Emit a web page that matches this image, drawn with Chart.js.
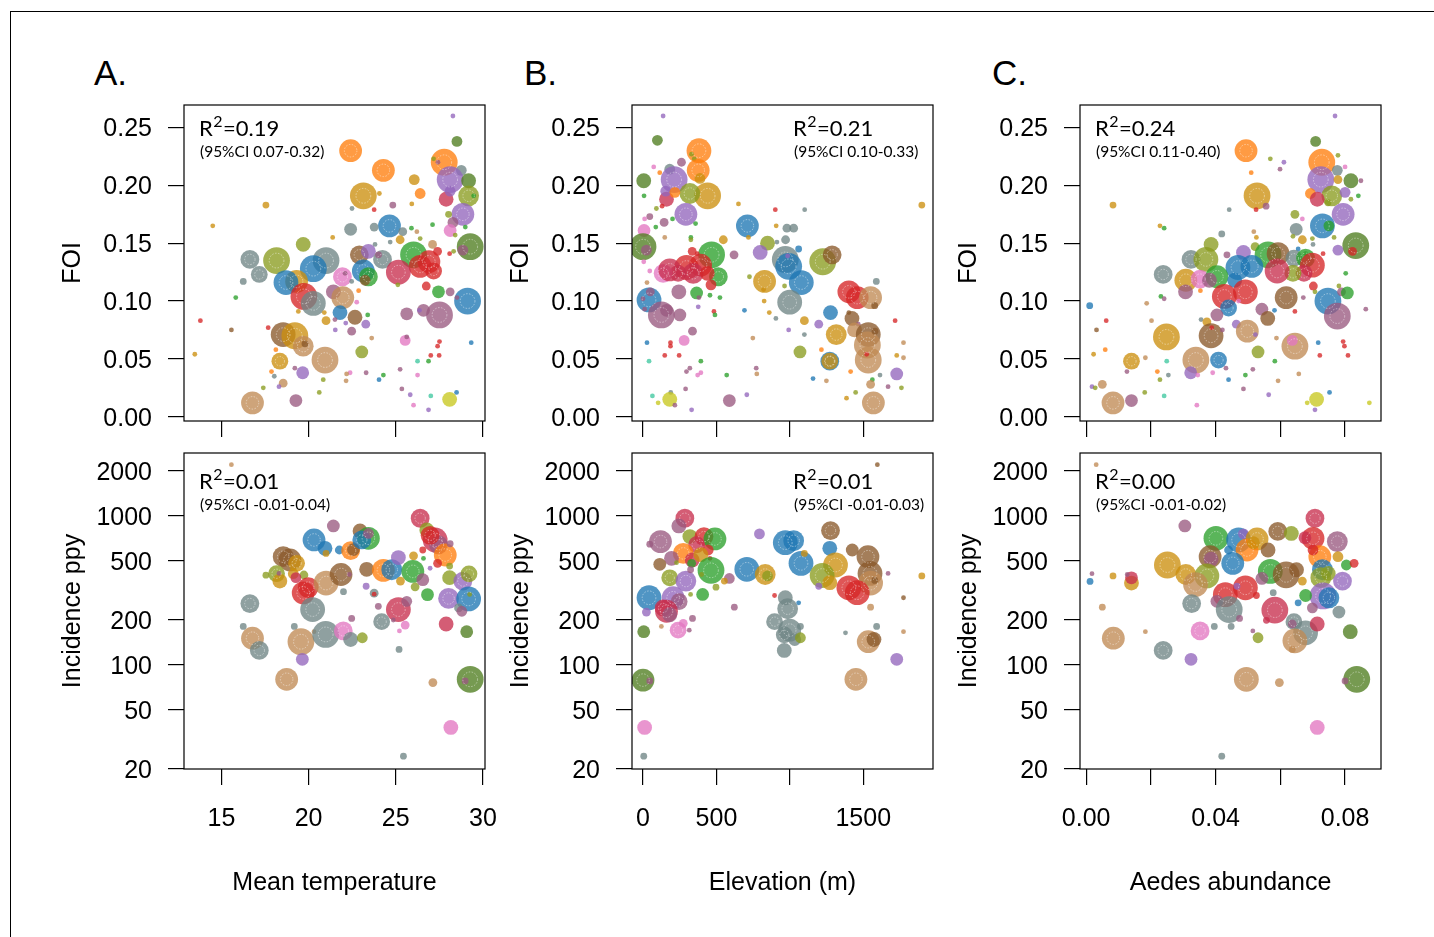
<!DOCTYPE html>
<html>
<head>
<meta charset="utf-8">
<script src="https://cdn.jsdelivr.net/npm/chart.js@4.4.1/dist/chart.umd.min.js"></script>
<style>
  body { margin: 0; background: #fff; width: 1434px; height: 937px; overflow: hidden; position: relative;
         font-family: "Liberation Sans", Arial, sans-serif; }
  #frame { position: absolute; left: 10px; top: 11px; width: 1430px; height: 930px;
           border-top: 1px solid #000; border-left: 1px solid #000; }
  canvas { position: absolute; }
  .lbl { position: absolute; font-size: 35px; line-height: 35px; color: #000; }
</style>
</head>
<body>
<div id="frame"></div>
<div class="lbl" style="left:94px;top:55px">A.</div>
<div class="lbl" style="left:524px;top:55px">B.</div>
<div class="lbl" style="left:992px;top:55px">C.</div>

<canvas id="tempFoiChart" width="451" height="361" style="left:54px;top:90px"></canvas>
<canvas id="elevFoiChart" width="451" height="361" style="left:502px;top:90px"></canvas>
<canvas id="aedesFoiChart" width="451" height="361" style="left:950px;top:90px"></canvas>
<canvas id="tempIncChart" width="451" height="471" style="left:54px;top:438px"></canvas>
<canvas id="elevIncChart" width="451" height="471" style="left:502px;top:438px"></canvas>
<canvas id="aedesIncChart" width="451" height="471" style="left:950px;top:438px"></canvas>

<script>
// colour of each group (region) of locations
const groupColours = ['#1f77b4', '#ff7f0e', '#2ca02c', '#d62728', '#9467bd', '#8b5a2b', '#e377c2', '#6f8585',
                      '#8a9c20', '#cc8f10', '#c08a55', '#4f7d20', '#9a5a80', '#c8304e', '#40c8a0', '#c8c820'];

// tick values / labels
const foiTicks = [0, 0.05, 0.10, 0.15, 0.20, 0.25];
const foiTickLabels = ['0.00', '0.05', '0.10', '0.15', '0.20', '0.25'];
const incTicks = [20, 50, 100, 200, 500, 1000, 2000];
const incTickLabels = ['20', '50', '100', '200', '500', '1000', '2000'];
const tempTicks = [15, 20, 25, 30];
const tempTickLabels = ['15', '20', '25', '30'];
const elevTicks = [0, 500, 1000, 1500];
const elevTickLabels = ['0', '500', '', '1500'];
const aedesTicks = [0, 0.02, 0.04, 0.06, 0.08];
const aedesTickLabels = ['0.00', '', '0.04', '', '0.08'];

// [x, y, population size, group]
const tempFoi = [[28.28,.260,2,4],[28.51,.238,5,11],[22.41,.230,11,1],[24.29,.213,11,1],[27.78,.220,13,1],[28.76,.213,5,7],[27.17,.223,2,8],[27.42,.220,2,12],[28.12,.205,13,4],[29.18,.204,7,11],[26.06,.205,5,9],[26.40,.193,5,1],[29.18,.191,10,8],[27.89,.188,7,13],[28.12,.195,5,4],[29.47,.191,2,2],[23.14,.191,13,9],[24.06,.193,2,9],[24.83,.183,3,12],[25.92,.184,2,9],[23.76,.179,2,3],[22.49,.180,2,7],[17.55,.183,3,9],[14.50,.165,2,9],[28.85,.175,11,4],[28.03,.175,3,8],[28.99,.164,2,2],[28.28,.168,5,12],[28.12,.161,6,6],[27.11,.166,2,2],[24.64,.165,11,0],[23.76,.164,4,7],[22.41,.162,6,7],[25.90,.163,2,2],[26.21,.160,2,10],[26.40,.154,2,8],[25.40,.160,4,7],[25.25,.153,4,9],[21.38,.155,2,9],[24.68,.151,2,7],[23.81,.149,2,7],[28.41,.157,2,8],[29.27,.147,13,11],[28.85,.144,5,12],[19.69,.149,7,8],[27.11,.149,4,10],[26.02,.140,13,2],[27.40,.143,4,3],[28.09,.141,2,3],[28.32,.143,2,8],[16.63,.136,9,7],[18.16,.135,13,8],[21.00,.135,13,7],[20.27,.128,13,0],[17.17,.123,8,7],[22.91,.140,9,5],[23.43,.143,7,4],[24.24,.136,9,7],[24.01,.140,3,12],[26.90,.134,11,3],[26.40,.130,11,3],[27.17,.126,8,3],[25.15,.125,12,13],[23.14,.126,11,0],[23.43,.121,9,2],[21.94,.121,9,6],[22.47,.117,2,7],[23.24,.118,5,5],[22.09,.124,2,12],[19.31,.117,11,9],[16.25,.117,3,7],[18.70,.116,12,0],[19.73,.104,13,3],[20.27,.098,12,7],[21.42,.108,7,12],[21.96,.103,11,10],[21.80,.090,7,0],[22.87,.109,2,1],[22.76,.099,2,6],[15.82,.103,2,2],[25.12,.114,2,8],[26.75,.113,4,3],[27.45,.108,6,2],[28.12,.108,4,12],[29.12,.100,13,0],[28.51,.103,2,12],[27.51,.088,13,12],[26.59,.092,6,12],[26.36,.092,2,4],[25.63,.089,6,12],[19.41,.091,2,9],[20.90,.090,2,9],[21.00,.083,4,9],[21.51,.084,2,12],[22.13,.081,2,4],[22.66,.086,7,5],[23.39,.088,2,2],[23.28,.080,4,4],[22.47,.074,4,12],[21.53,.075,2,4],[13.79,.083,2,3],[15.57,.075,2,5],[17.68,.077,2,3],[18.54,.071,12,5],[19.21,.070,13,9],[19.69,.061,10,10],[19.79,.063,3,5],[23.62,.068,2,10],[25.54,.066,5,6],[25.63,.069,2,12],[27.51,.065,2,3],[27.40,.061,2,3],[29.33,.064,2,0],[18.12,.058,2,1],[18.35,.048,8,9],[23.05,.056,6,8],[20.94,.049,13,10],[27.01,.053,2,3],[27.49,.053,2,3],[26.25,.048,2,14],[26.88,.048,2,2],[13.47,.054,2,9],[17.87,.039,2,1],[18.03,.035,2,7],[19.21,.042,2,12],[19.66,.038,6,4],[20.84,.032,2,8],[22.38,.038,2,6],[22.18,.037,2,10],[22.15,.031,2,10],[23.30,.038,2,12],[24.29,.036,2,2],[24.04,.032,2,0],[25.25,.041,2,12],[26.25,.036,2,6],[18.54,.029,4,10],[18.30,.026,2,4],[17.40,.025,2,8],[20.61,.021,2,8],[25.35,.024,2,12],[25.83,.019,2,4],[27.01,.018,2,14],[28.09,.015,7,15],[28.49,.021,2,0],[16.78,.012,11,10],[19.27,.014,6,12],[26.02,.010,2,6],[26.88,.006,2,4]];

const elevFoi = [[137,.260,2,4],[98,.239,5,11],[381,.230,12,1],[330,.227,2,8],[349,.223,2,8],[262,.220,4,12],[376,.213,11,1],[182,.214,5,7],[73,.216,2,6],[114,.211,2,1],[212,.205,13,4],[5,.204,7,11],[388,.206,5,9],[440,.191,13,9],[319,.193,10,8],[160,.188,7,13],[155,.195,5,4],[7,.191,2,2],[217,.194,5,1],[130,.182,2,3],[91,.180,2,8],[650,.184,2,9],[901,.179,2,3],[1101,.179,2,7],[1899,.183,3,9],[292,.175,11,4],[46,.173,3,12],[11,.171,2,6],[144,.168,4,12],[201,.171,2,2],[87,.164,2,2],[358,.167,2,2],[7,.161,6,6],[711,.165,11,0],[907,.165,2,9],[1026,.163,4,7],[980,.163,4,7],[148,.155,2,10],[326,.155,2,2],[326,.153,2,8],[547,.153,4,9],[718,.155,2,9],[971,.153,4,7],[912,.151,2,7],[848,.150,7,8],[0,.147,13,11],[23,.144,5,12],[467,.140,13,2],[335,.143,4,3],[369,.141,2,3],[620,.140,4,12],[798,.142,7,4],[5,.134,2,6],[969,.136,13,7],[992,.130,13,0],[985,.139,2,4],[1060,.145,3,0],[1224,.134,13,8],[1288,.140,9,5],[392,.131,11,3],[296,.129,12,3],[239,.124,8,13],[137,.124,9,6],[182,.127,11,13],[46,.126,2,6],[342,.124,10,13],[513,.121,9,2],[438,.124,7,3],[463,.114,5,3],[1078,.116,12,0],[828,.117,11,9],[725,.121,2,8],[964,.113,2,8],[27,.116,2,10],[244,.108,7,12],[365,.107,6,2],[456,.105,2,2],[524,.103,2,2],[381,.103,2,12],[41,.101,12,0],[50,.108,4,12],[0,.102,2,12],[11,.093,2,12],[821,.110,2,9],[825,.100,2,9],[999,.099,12,7],[1402,.108,11,3],[1459,.103,11,3],[1550,.103,11,10],[1589,.117,3,7],[1578,.096,3,5],[1277,.090,7,0],[125,.088,13,12],[160,.092,6,12],[251,.088,6,12],[376,.095,2,4],[483,.091,2,3],[490,.088,2,2],[691,.092,2,0],[860,.090,2,9],[905,.085,2,7],[1099,.083,4,9],[1197,.080,4,4],[1402,.090,2,5],[1423,.085,7,5],[1466,.080,2,12],[1717,.083,2,3],[337,.074,4,12],[992,.075,2,4],[1099,.071,2,7],[748,.068,2,10],[1316,.071,10,9],[1441,.075,7,10],[1534,.071,12,5],[1528,.062,13,10],[1580,.074,3,5],[280,.066,5,6],[187,.064,2,3],[187,.061,2,3],[27,.064,2,0],[1774,.064,2,10],[1215,.058,2,1],[1069,.056,6,8],[1272,.048,9,0],[1272,.048,8,9],[1534,.049,13,10],[148,.053,2,3],[246,.053,2,3],[41,.048,2,14],[394,.048,2,2],[1728,.053,2,9],[1774,.051,2,10],[1523,.054,2,3],[296,.039,2,12],[319,.042,2,12],[372,.036,2,6],[394,.038,2,6],[570,.036,2,2],[771,.042,2,12],[775,.037,2,10],[1158,.033,2,0],[1249,.031,2,10],[1414,.039,2,1],[1562,.032,2,2],[1550,.028,4,10],[1614,.036,2,7],[1728,.037,6,4],[1669,.026,2,12],[1760,.025,2,8],[290,.024,2,12],[707,.019,2,4],[189,.021,2,7],[64,.018,2,14],[182,.015,7,15],[103,.012,2,15],[217,.010,2,12],[331,.006,2,4],[588,.014,6,12],[1386,.016,2,9],[1448,.021,2,8],[1569,.012,11,10]];

const aedesFoi = [[.0769,.260,2,4],[.0709,.238,5,11],[.0494,.230,11,1],[.0569,.223,2,8],[.0611,.220,2,4],[.0599,.214,2,12],[.0510,.211,2,1],[.0728,.220,13,1],[.0778,.226,2,8],[.0776,.213,5,7],[.0800,.216,2,6],[.0725,.205,13,4],[.0818,.204,7,11],[.0849,.204,2,12],[.0778,.205,4,9],[.0693,.193,5,1],[.0759,.191,10,8],[.0714,.188,7,13],[.0800,.194,5,4],[.0818,.188,2,8],[.0841,.191,2,2],[.0747,.185,3,8],[.0528,.191,13,9],[.0556,.182,3,12],[.0525,.179,2,3],[.0442,.179,2,7],[.0083,.183,3,9],[.0794,.175,11,4],[.0645,.175,4,8],[.0668,.171,2,6],[.0730,.165,12,0],[.0750,.165,5,2],[.0649,.162,6,7],[.0639,.156,2,8],[.0668,.153,4,9],[.0701,.149,2,7],[.0699,.154,2,8],[.0766,.155,2,8],[.0228,.165,2,9],[.0241,.163,2,2],[.0419,.158,3,7],[.0518,.160,2,10],[.0526,.155,2,9],[.0386,.149,7,8],[.0833,.148,13,11],[.0823,.143,4,3],[.0778,.144,5,4],[.0522,.147,4,8],[.0562,.140,13,2],[.0593,.141,11,5],[.0655,.145,2,0],[.0678,.141,2,2],[.0732,.141,2,3],[.0642,.137,8,7],[.0678,.137,9,2],[.0699,.131,12,3],[.0673,.124,8,13],[.0639,.124,8,8],[.0590,.126,12,13],[.0324,.136,9,7],[.0370,.136,12,8],[.0435,.140,3,12],[.0486,.142,7,4],[.0469,.129,12,0],[.0512,.130,11,0],[.0238,.123,9,7],[.0308,.118,11,9],[.0352,.119,9,6],[.0404,.121,11,2],[.0381,.118,7,12],[.0459,.118,7,0],[.0307,.108,7,12],[.0353,.109,2,1],[.0231,.104,2,2],[.0241,.102,2,12],[.0427,.104,12,3],[.0492,.108,12,3],[.0471,.100,2,6],[.0440,.094,8,0],[.0404,.088,6,12],[.0618,.103,11,5],[.0702,.113,4,3],[.0707,.108,2,8],[.0747,.100,13,0],[.0781,.113,2,8],[.0789,.108,4,12],[.0807,.107,6,2],[.0776,.087,13,12],[.0802,.124,2,2],[.0864,.093,2,12],[.0011,.096,3,0],[.0543,.093,6,12],[.0561,.085,7,5],[.0582,.092,2,0],[.0645,.091,2,3],[.0671,.103,2,12],[.0187,.098,2,10],[.0202,.083,2,10],[.0062,.083,2,3],[.0032,.075,2,5],[.0355,.084,2,7],[.0373,.082,4,9],[.0386,.070,12,5],[.0388,.077,2,3],[.0421,.075,2,12],[.0464,.080,4,4],[.0498,.074,11,10],[.0523,.071,2,4],[.0248,.069,13,9],[.0645,.061,13,10],[.0637,.066,5,6],[.0588,.068,2,10],[.0717,.064,2,0],[.0794,.065,2,3],[.0798,.061,2,3],[.0809,.053,2,3],[.0722,.053,2,3],[.0531,.056,6,8],[.0409,.049,8,0],[.0339,.049,13,10],[.0140,.048,8,9],[.0183,.051,2,10],[.0059,.058,2,1],[.0023,.054,2,9],[.0249,.048,2,14],[.0583,.048,2,2],[.0126,.039,2,12],[.0220,.039,2,1],[.0228,.032,2,8],[.0254,.036,2,7],[.0323,.038,6,4],[.0345,.036,2,6],[.0391,.038,2,6],[.0432,.042,2,12],[.0440,.032,2,0],[.0492,.036,2,2],[.0515,.041,2,12],[.0593,.031,2,10],[.0657,.037,2,10],[.0050,.028,4,10],[.0018,.026,2,4],[.0028,.025,2,8],[.0181,.021,2,8],[.0241,.018,2,14],[.0486,.024,2,12],[.0564,.019,2,4],[.0712,.015,7,15],[.0752,.021,2,0],[.0683,.012,2,15],[.0707,.006,2,4],[.0875,.012,2,15],[.0083,.012,11,10],[.0140,.014,6,12],[.0342,.010,2,6]];

const tempInc = [[15.57,2206,2,10],[26.40,964,9,13],[21.42,856,6,12],[22.95,792,7,5],[20.31,689,11,0],[20.94,606,7,0],[21.76,590,4,0],[21.00,560,3,9],[22.41,584,9,1],[22.57,594,6,5],[23.43,707,11,2],[23.05,689,9,0],[23.43,762,5,12],[26.78,805,7,8],[27.26,689,12,13],[27.45,640,9,12],[26.97,740,9,3],[27.84,546,11,1],[28.12,650,3,12],[26.55,590,3,3],[26.02,539,4,9],[26.59,518,2,2],[27.40,480,4,3],[28.09,460,3,8],[26.97,445,2,4],[18.54,532,10,5],[18.93,506,11,5],[19.31,480,8,9],[18.16,409,8,8],[17.55,400,3,8],[18.35,365,7,9],[19.12,409,5,9],[18.30,411,2,12],[19.73,401,4,8],[19.27,385,5,13],[19.69,304,11,3],[19.98,330,10,3],[21.00,354,12,10],[21.86,404,11,5],[22.34,404,2,12],[23.33,438,7,5],[23.30,337,3,4],[24.29,431,11,1],[24.77,435,10,0],[25.15,525,7,4],[25.98,424,11,2],[25.27,365,4,9],[26.11,334,4,8],[26.55,373,6,12],[26.82,296,6,2],[28.09,385,7,8],[28.85,365,9,4],[29.20,408,8,8],[28.03,279,10,4],[29.18,277,12,0],[28.60,241,4,7],[28.79,229,5,12],[29.24,297,2,8],[22.00,310,3,7],[23.76,303,4,7],[23.76,298,2,3],[24.00,247,3,12],[16.63,258,9,7],[20.23,235,12,7],[25.15,235,12,13],[25.63,267,5,12],[24.19,195,8,7],[24.86,200,2,12],[25.54,185,4,6],[25.21,169,2,6],[22.47,205,3,12],[27.89,188,7,13],[29.07,167,6,11],[16.25,181,3,7],[16.78,151,11,10],[17.17,125,9,7],[19.18,181,3,7],[19.56,143,13,10],[20.31,167,2,10],[20.98,160,13,7],[21.99,169,9,6],[22.41,148,7,7],[23.08,152,5,8],[19.64,109,6,4],[18.74,80,11,10],[25.19,127,3,7],[27.13,76,4,10],[29.27,80,13,11],[28.98,78,3,12],[28.16,38,7,6],[25.44,24.4,3,7]];

const elevInc = [[1596,2206,2,5],[285,964,9,13],[244,856,7,12],[319,726,7,8],[415,726,9,3],[490,700,11,2],[119,672,11,12],[46,646,3,12],[365,640,8,13],[444,590,5,3],[274,560,10,1],[194,519,7,12],[335,506,7,13],[456,519,2,3],[394,549,7,9],[114,473,6,5],[228,485,2,8],[331,480,4,2],[182,384,8,8],[292,365,10,4],[463,431,13,2],[324,435,3,12],[399,404,2,8],[588,380,5,12],[554,365,3,9],[497,332,3,8],[707,438,12,0],[832,404,10,9],[848,395,5,8],[793,757,5,4],[969,661,12,0],[1026,681,10,0],[1076,480,12,0],[1099,560,3,9],[1277,797,9,5],[1272,606,7,0],[1311,468,12,9],[1220,398,12,8],[1272,356,7,9],[1197,337,3,4],[1425,590,6,5],[1532,532,11,5],[1546,411,12,5],[1550,354,12,10],[1402,329,12,3],[1459,305,12,3],[1578,369,3,5],[1669,411,2,12],[1899,395,3,9],[1774,282,2,5],[1550,244,3,10],[896,292,2,3],[622,244,3,12],[41,282,12,0],[205,282,11,4],[246,266,8,12],[406,297,6,2],[324,297,2,8],[160,229,11,13],[137,241,8,13],[182,217,7,12],[23,226,4,4],[239,171,8,6],[274,190,4,6],[337,205,3,12],[315,171,2,12],[125,181,2,10],[5,167,6,11],[969,282,7,7],[985,238,10,7],[1060,261,2,0],[896,195,8,7],[999,171,11,7],[962,159,8,7],[1033,148,6,7],[1072,152,5,8],[1072,181,3,7],[962,125,7,7],[1379,164,2,7],[1591,181,3,7],[1774,167,2,10],[1534,143,11,10],[1573,148,7,5],[1728,109,6,4],[1450,80,11,10],[0,79,11,11],[46,78,3,12],[11,38,7,6],[5,24.4,3,7]];

const aedesInc = [[.0031,2206,2,10],[.0707,964,9,13],[.0305,856,6,12],[.0401,707,12,2],[.0471,689,12,0],[.0486,757,5,4],[.0528,700,11,9],[.0592,786,9,5],[.0634,762,7,8],[.0701,707,11,3],[.0676,714,6,13],[.0776,672,10,12],[.0497,590,11,1],[.0517,660,6,9],[.0440,590,4,0],[.0383,532,11,5],[.0386,512,7,12],[.0562,590,7,5],[.0453,480,11,0],[.0722,532,11,1],[.0701,590,5,3],[.0778,532,5,9],[.0804,468,5,2],[.0828,480,4,3],[.0251,468,13,9],[.0308,404,10,9],[.0373,395,12,8],[.0338,346,12,10],[.0569,424,12,2],[.0618,402,13,5],[.0650,435,7,5],[.0730,435,10,0],[.0725,385,10,8],[.0748,411,7,8],[.0668,365,4,9],[.0543,380,6,12],[.0792,365,9,4],[.0430,296,12,3],[.0492,329,12,3],[.0466,337,3,4],[.0526,292,3,3],[.0578,305,3,7],[.0404,267,6,12],[.0442,235,13,7],[.0474,205,3,12],[.0326,258,9,7],[.0583,233,13,13],[.0732,290,13,4],[.0750,282,10,0],[.0678,292,6,2],[.0655,261,3,0],[.0699,241,5,12],[.0781,226,6,7],[.0642,195,8,7],[.0678,164,12,7],[.0645,145,12,10],[.0637,127,3,10],[.0637,188,4,12],[.0714,188,7,13],[.0816,167,7,11],[.0352,169,9,6],[.0396,181,3,7],[.0448,181,3,7],[.0515,169,2,12],[.0531,152,5,8],[.0557,199,3,13],[.0084,151,11,10],[.0183,167,2,10],[.0238,125,9,7],[.0324,109,6,4],[.0495,80,12,10],[.0597,76,4,10],[.0836,80,13,11],[.0800,78,3,12],[.0714,38,7,6],[.0419,24.4,3,7],[.0012,363,3,0],[.0018,409,2,12],[.0083,395,3,9],[.0140,354,7,9],[.0140,384,6,13],[.0127,404,2,12],[.0050,244,3,10]];

// fit statistics printed in each panel
const r2Values = ['0.19', '0.21', '0.24', '0.01', '0.01', '0.00'];
const r2Cis = ['(95%CI 0.07-0.32)', '(95%CI 0.10-0.33)', '(95%CI 0.11-0.40)',
               '(95%CI -0.01-0.04)', '(95%CI -0.01-0.03)', '(95%CI -0.01-0.02)'];

Chart.defaults.font.family = '"Liberation Sans", Arial, sans-serif';
Chart.defaults.color = '#000';

function hexToRgba(hex, a) {
  const n = parseInt(hex.slice(1), 16);
  return `rgba(${(n >> 16) & 255}, ${(n >> 8) & 255}, ${n & 255}, ${a})`;
}
const fills = groupColours.map(c => hexToRgba(c, 0.78));
const popRadius = p => p + 0.4;

// R-like box, faint rings and the R2 note
const boxPlugin = {
  id: 'rbox',
  afterDatasetsDraw(chart, args, o) {
    const {ctx, chartArea: a} = chart;
    ctx.save();
    ctx.beginPath();
    ctx.rect(a.left, a.top, a.right - a.left, a.bottom - a.top);
    ctx.clip();
    ctx.strokeStyle = 'rgba(255,255,255,0.55)';
    ctx.lineWidth = 0.8;
    ctx.setLineDash([1.5, 1.5]);
    chart.getDatasetMeta(0).data.forEach(el => {
      const r = el.options.radius;
      if (r >= 8) {
        ctx.beginPath();
        ctx.arc(el.x, el.y, r * 0.55, 0, Math.PI * 2);
        ctx.stroke();
      }
    });
    ctx.restore();

    ctx.save();
    ctx.strokeStyle = '#000';
    ctx.lineWidth = 1.2;
    ctx.strokeRect(a.left, a.top, a.right - a.left, a.bottom - a.top);

    const x = a.left + o.dx;
    const y = a.top + o.dy;
    ctx.fillStyle = '#000';
    ctx.textBaseline = 'alphabetic';
    ctx.font = '22px Lato, "Open Sans", sans-serif';
    ctx.fillText('R', x, y);
    const w1 = ctx.measureText('R').width;
    ctx.font = '16px Lato, "Open Sans", sans-serif';
    ctx.fillText('2', x + w1 + 0.5, y - 9);
    const w2 = ctx.measureText('2').width;
    ctx.font = '22px Lato, "Open Sans", sans-serif';
    ctx.fillText('=' + o.r2, x + w1 + w2 + 1, y);
    ctx.font = '15.5px Lato, "Open Sans", sans-serif';
    ctx.fillText(o.ci, x + 1, y + 21);
    ctx.restore();
  }
};

function axis(s, which) {
  return {
    type: s.log ? 'logarithmic' : 'linear',
    min: s.min,
    max: s.max,
    afterBuildTicks: sc => { sc.ticks = s.ticks.map(v => ({value: v})); },
    afterFit: sc => {
      if (which === 'y') sc.width = 130;
      else sc.height = s.title ? 140 : 30;
      sc.paddingTop = sc.paddingBottom = sc.paddingLeft = sc.paddingRight = 0;
    },
    grid: {display: true, drawOnChartArea: false, drawTicks: true, tickLength: 16, color: '#000', lineWidth: 1.2},
    border: {display: false},
    ticks: {
      display: s.showLabels,
      padding: which === 'y' ? 16 : 19,
      labelOffset: which === 'y' ? 2 : 0,
      color: '#000',
      font: {size: 25},
      maxRotation: 0,
      autoSkip: false,
      callback: (v, i) => s.labels[i]
    },
    title: {
      display: !!s.title,
      text: s.title,
      color: '#000',
      font: {size: 25},
      padding: which === 'y' ? {top: 4, bottom: 0} : {top: 0, bottom: 11}
    }
  };
}

function makeChart(id, pts, xs, ys, note) {
  return new Chart(document.getElementById(id), {
    type: 'bubble',
    data: {
      datasets: [{
        data: pts.map(p => ({x: p[0], y: p[1], r: popRadius(p[2]), g: p[3]})),
        backgroundColor: c => fills[c.raw ? c.raw.g : 0],
        borderWidth: 0,
        hoverRadius: 0,
        clip: 0
      }]
    },
    options: {
      responsive: false,
      animation: false,
      events: [],
      layout: {padding: {left: 0, top: 15, right: 20, bottom: 0}},
      plugins: {legend: {display: false}, tooltip: {enabled: false}, rbox: note},
      scales: {x: axis(xs, 'x'), y: axis(ys, 'y')}
    },
    plugins: [boxPlugin]
  });
}

const foiAxis = {min: -0.0037, max: 0.2695, ticks: foiTicks, labels: foiTickLabels, showLabels: true, title: 'FOI'};
const incAxis = {log: true, min: 20, max: 2642, ticks: incTicks, labels: incTickLabels, showLabels: true, title: 'Incidence ppy'};
const tempAxis = {min: 12.85, max: 30.12, ticks: tempTicks, labels: tempTickLabels};
const elevAxis = {min: -75, max: 1975, ticks: elevTicks, labels: elevTickLabels};
const aedesAxis = {min: -0.0019, max: 0.0911, ticks: aedesTicks, labels: aedesTickLabels};

makeChart('tempFoiChart', tempFoi, {...tempAxis, showLabels: false}, foiAxis, {r2: r2Values[0], ci: r2Cis[0], dx: 15, dy: 31});
makeChart('elevFoiChart', elevFoi, {...elevAxis, showLabels: false}, foiAxis, {r2: r2Values[1], ci: r2Cis[1], dx: 161, dy: 31});
makeChart('aedesFoiChart', aedesFoi, {...aedesAxis, showLabels: false}, foiAxis, {r2: r2Values[2], ci: r2Cis[2], dx: 15, dy: 31});
makeChart('tempIncChart', tempInc, {...tempAxis, showLabels: true, title: 'Mean temperature'}, incAxis, {r2: r2Values[3], ci: r2Cis[3], dx: 15, dy: 36});
makeChart('elevIncChart', elevInc, {...elevAxis, showLabels: true, title: 'Elevation (m)'}, incAxis, {r2: r2Values[4], ci: r2Cis[4], dx: 161, dy: 36});
makeChart('aedesIncChart', aedesInc, {...aedesAxis, showLabels: true, title: 'Aedes abundance'}, incAxis, {r2: r2Values[5], ci: r2Cis[5], dx: 15, dy: 36});
</script>
</body>
</html>
